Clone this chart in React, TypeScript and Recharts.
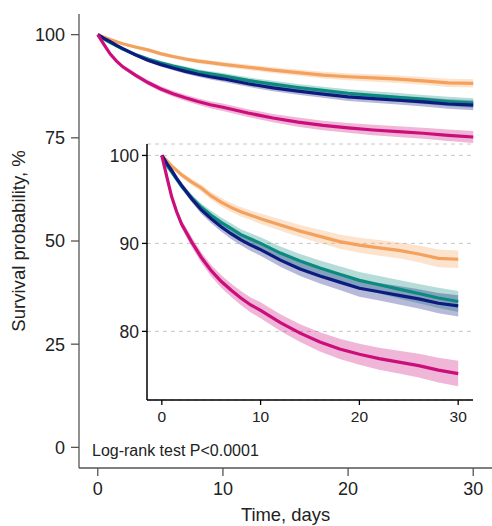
import React from 'react';
import { ComposedChart, Line, Area, XAxis, YAxis, CartesianGrid } from 'recharts';

const days = [0, 0.5, 1, 1.5, 2, 3, 4, 5, 6, 7, 8, 9, 10, 12, 14, 16, 18, 20, 22, 24, 26, 28, 30];
const orange = [100, 99.4, 98.8, 98.3, 97.8, 97.0, 96.3, 95.4, 94.7, 94.1, 93.6, 93.2, 92.8, 92.1, 91.4, 90.8, 90.2, 89.8, 89.5, 89.2, 88.8, 88.3, 88.2];
const teal = [100, 98.9, 98.1, 97.3, 96.5, 95.2, 94.1, 93.2, 92.4, 91.7, 91.0, 90.5, 90.0, 88.9, 88.0, 87.2, 86.5, 85.8, 85.3, 84.8, 84.3, 83.8, 83.4];
const navy = [100, 99.1, 98.3, 97.4, 96.6, 95.1, 93.8, 92.8, 91.9, 91.1, 90.4, 89.8, 89.3, 88.1, 87.1, 86.3, 85.6, 84.9, 84.5, 84.1, 83.7, 83.2, 82.9];
const magenta = [100, 97.6, 95.3, 93.6, 92.2, 90.2, 88.4, 86.9, 85.7, 84.7, 83.8, 83.0, 82.4, 81.0, 79.8, 78.8, 78.0, 77.4, 76.9, 76.5, 76.1, 75.6, 75.2];

// half-widths of the confidence bands
const orangeHw = [0, 0.15, 0.2, 0.25, 0.3, 0.35, 0.4, 0.45, 0.5, 0.5, 0.55, 0.55, 0.6, 0.65, 0.7, 0.75, 0.8, 0.85, 0.9, 0.9, 0.95, 1.0, 1.0];
const tealHw = [0, 0.2, 0.25, 0.3, 0.35, 0.4, 0.45, 0.5, 0.55, 0.6, 0.6, 0.65, 0.7, 0.75, 0.8, 0.85, 0.9, 0.95, 1.0, 1.05, 1.1, 1.15, 1.2];
const navyHw = [0, 0.2, 0.25, 0.3, 0.35, 0.4, 0.45, 0.5, 0.55, 0.6, 0.6, 0.65, 0.7, 0.75, 0.8, 0.85, 0.9, 0.95, 1.0, 1.05, 1.1, 1.15, 1.2];
const magentaHw = [0, 0.25, 0.35, 0.4, 0.45, 0.55, 0.6, 0.65, 0.7, 0.75, 0.8, 0.85, 0.9, 0.95, 1.0, 1.1, 1.15, 1.2, 1.25, 1.3, 1.35, 1.4, 1.45];

const xTicks = [0, 10, 20, 30];
const mainYTicks = [0, 25, 50, 75, 100];
const insetYTicks = [80, 90, 100];

const C_ORANGE = '#F4A15D';
const C_TEAL = '#0B8A7E';
const C_NAVY = '#0D1B7E';
const C_MAGENTA = '#CB0E7B';

const data = days.map((t, i) => ({
  t,
  o: orange[i],
  te: teal[i],
  n: navy[i],
  m: magenta[i],
  oR: [orange[i] - orangeHw[i], orange[i] + orangeHw[i]],
  teR: [teal[i] - tealHw[i], teal[i] + tealHw[i]],
  nR: [navy[i] - navyHw[i], navy[i] + navyHw[i]],
  mR: [magenta[i] - magentaHw[i], magenta[i] + magentaHw[i]],
}));

const FONT = '"Liberation Sans", Arial, Helvetica, sans-serif';

function series(lw: number) {
  return [
    <Area key="oR" dataKey="oR" type="linear" stroke="none" fill={C_ORANGE} fillOpacity={0.3} isAnimationActive={false} activeDot={false} />,
    <Area key="teR" dataKey="teR" type="linear" stroke="none" fill={C_TEAL} fillOpacity={0.3} isAnimationActive={false} activeDot={false} />,
    <Area key="nR" dataKey="nR" type="linear" stroke="none" fill={C_NAVY} fillOpacity={0.3} isAnimationActive={false} activeDot={false} />,
    <Area key="mR" dataKey="mR" type="linear" stroke="none" fill={C_MAGENTA} fillOpacity={0.3} isAnimationActive={false} activeDot={false} />,
    <Line key="o" dataKey="o" type="linear" stroke={C_ORANGE} strokeWidth={lw} dot={false} activeDot={false} isAnimationActive={false} />,
    <Line key="te" dataKey="te" type="linear" stroke={C_TEAL} strokeWidth={lw} dot={false} activeDot={false} isAnimationActive={false} />,
    <Line key="n" dataKey="n" type="linear" stroke={C_NAVY} strokeWidth={lw} dot={false} activeDot={false} isAnimationActive={false} />,
    <Line key="m" dataKey="m" type="linear" stroke={C_MAGENTA} strokeWidth={lw} dot={false} activeDot={false} isAnimationActive={false} />,
  ];
}

export default function App() {
  return (
    <div style={{ position: 'absolute', left: 0, top: 0, width: 492, height: 526, background: '#fff', fontFamily: FONT }}>
      <div style={{ position: 'absolute', left: 0, top: 0 }}>
        <ComposedChart width={492} height={526} data={data} margin={{ top: 14, right: 0, left: 0, bottom: 0 }}>
          <XAxis
            dataKey="t"
            type="number"
            domain={[-1.5, 31.5]}
            ticks={xTicks}
            height={58}
            tickSize={8}
            tickMargin={6}
            axisLine={{ stroke: '#555', strokeWidth: 1.3 }}
            tickLine={{ stroke: '#555', strokeWidth: 1.3 }}
            tick={{ fill: '#222', fontSize: 18, fontFamily: FONT }}
            allowDataOverflow
          />
          <YAxis
            type="number"
            domain={[-5, 105]}
            ticks={mainYTicks}
            width={79}
            tickSize={8}
            tickMargin={6}
            axisLine={{ stroke: '#555', strokeWidth: 1.3 }}
            tickLine={{ stroke: '#555', strokeWidth: 1.3 }}
            tick={{ fill: '#222', fontSize: 18, fontFamily: FONT }}
            allowDataOverflow
          />
          {series(3.2)}
        </ComposedChart>
      </div>
      <div style={{ position: 'absolute', left: 0, top: 0 }}>
        <ComposedChart width={492} height={526} data={data} margin={{ top: 144, right: 19, left: 0, bottom: 0 }}>
          <CartesianGrid vertical={false} stroke="#c8c8c8" strokeDasharray="4 4" strokeWidth={1} />
          <XAxis
            dataKey="t"
            type="number"
            domain={[-1.5, 31.5]}
            ticks={xTicks}
            height={126}
            tickSize={5}
            tickMargin={6}
            axisLine={{ stroke: '#000', strokeWidth: 1.5 }}
            tickLine={{ stroke: '#000', strokeWidth: 1.3 }}
            tick={{ fill: '#222', fontSize: 15.5, fontFamily: FONT }}
            allowDataOverflow
          />
          <YAxis
            type="number"
            domain={[72.2, 101.3]}
            ticks={insetYTicks}
            width={147}
            tickSize={5}
            tickMargin={3}
            axisLine={{ stroke: '#000', strokeWidth: 1.5 }}
            tickLine={{ stroke: '#000', strokeWidth: 1.3 }}
            tick={{ fill: '#222', fontSize: 17.5, fontFamily: FONT }}
            allowDataOverflow
          />
          {series(3.2)}
        </ComposedChart>
      </div>
      <svg width={492} height={526} style={{ position: 'absolute', left: 0, top: 0, pointerEvents: 'none' }}>
        <text x={92} y={456} fontSize={16} fill="#222" fontFamily={FONT}>Log-rank test P&lt;0.0001</text>
        <text x={285.5} y={521} fontSize={18.4} fill="#222" fontFamily={FONT} textAnchor="middle">Time, days</text>
        <text x={25} y={241} fontSize={18.6} fill="#222" fontFamily={FONT} textAnchor="middle" transform="rotate(-90 25 241)">Survival probability, %</text>
      </svg>
    </div>
  );
}
